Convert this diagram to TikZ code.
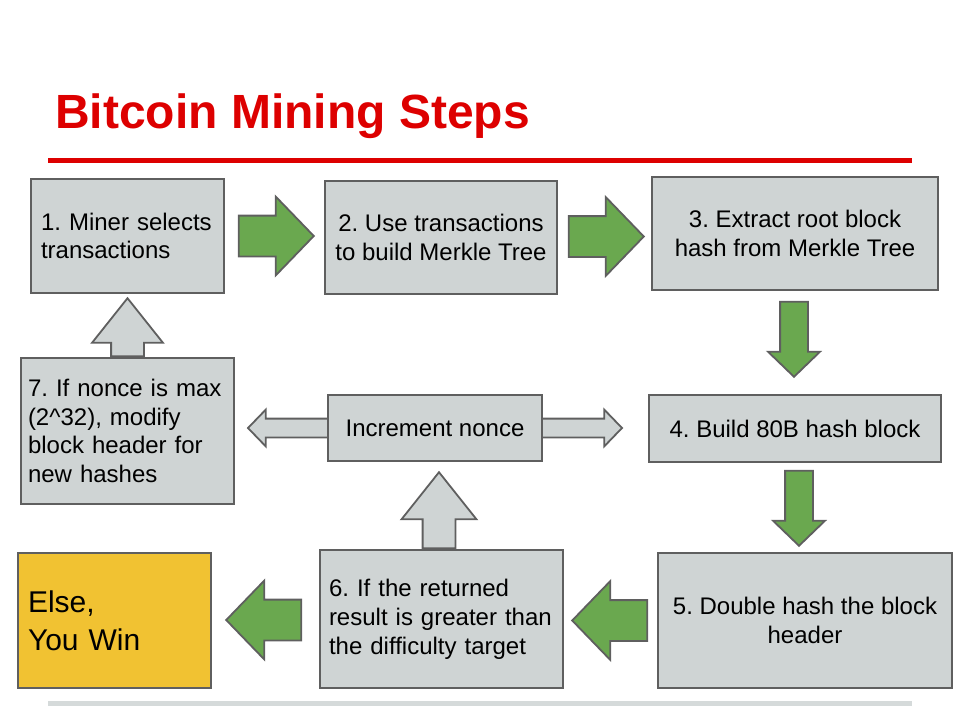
\documentclass[tikz,border=0pt]{standalone}
\usepackage{fontspec}
\setmainfont{Liberation Sans}
\usetikzlibrary{shapes.arrows,calc}
\definecolor{red1}{RGB}{221,0,0}
\definecolor{gray1}{RGB}{207,212,212}
\definecolor{gray2}{RGB}{95,95,95}
\definecolor{gray3}{RGB}{213,218,218}
\definecolor{green1}{RGB}{106,168,79}
\definecolor{yellow1}{RGB}{241,194,50}
\frenchspacing

\begin{document}
\begin{tikzpicture}[x=1pt,y=-1pt,font=\fontsize{24}{28.8}\selectfont,
    stepbox/.style={draw=gray2,fill=gray1,line width=1.8pt,inner sep=0pt,align=center},
    blockarrow/.style n args={4}{single arrow,draw=gray2,line width=1.8pt,inner xsep=0pt,anchor=tail,
      minimum height=#1,inner ysep=#2,single arrow head extend=#3,single arrow tip angle=#4},
    garrow/.style={blockarrow={75pt}{19.5pt}{19pt}{92},fill=green1},
    darrow/.style={blockarrow={75pt}{13pt}{12pt}{92},fill=green1,rotate=-90},
    uarrow/.style 2 args={blockarrow={#1}{15.5pt}{#2}{77},fill=gray1,rotate=90}]
    \path (0,0) rectangle (960,720);

    \node[anchor=base west,inner sep=0pt,text=red1,font=\fontsize{48}{58}\selectfont\bfseries] (title) at (55,128) {Bitcoin Mining Steps};
    \draw[red1,line width=5pt] (48,160) -- (912,160);
    \draw[gray3,line width=5pt] (48,703) -- (912,703);

    \node[stepbox,align=left,inner xsep=10pt,text width=173pt,minimum height=114pt] (s1) at (127.5,236) {1. Miner selects\\transactions};
    \node[stepbox,minimum width=232pt,minimum height=113pt] (s2) at (441,237.5) {2. Use transactions\\to build Merkle Tree};
    \node[stepbox,minimum width=286pt,minimum height=113pt] (s3) at (795,233.5) {3. Extract root block\\hash from Merkle Tree};
    \node[stepbox,minimum width=292pt,minimum height=67pt] (s4) at (795,428.5) {4. Build 80B hash block};
    \node[stepbox,minimum width=294pt,minimum height=135pt] (s5) at (805,620.5) {5. Double hash the block\\header};
    \node[stepbox,align=left,inner xsep=9pt,text width=225pt,minimum height=138pt] (s6) at (441.5,619) {6. If the returned\\result is greater than\\the difficulty target};
    \node[stepbox,align=left,inner xsep=7pt,text width=199pt,minimum height=146pt] (s7) at (127.5,431) {7. If nonce is max\\(2\^{}32), modify\\block header for\\new hashes};
    \node[stepbox,fill=yellow1,align=left,inner xsep=10pt,text width=173pt,minimum height=135pt,font=\fontsize{30}{38}\selectfont] (win) at (114.5,620.5) {Else,\\You Win};

    \coordinate (incc) at (435,428);
    \node[double arrow,draw=gray2,fill=gray1,line width=1.8pt,inner xsep=0pt,inner ysep=8.5pt,
      minimum height=374pt,double arrow head extend=9pt,double arrow tip angle=92] (loop) at (incc) {};
    \node[stepbox,minimum width=214pt,minimum height=66pt] (inc) at (incc) {Increment nonce};

    \node[garrow] (a12) at ($(s1.east)+(13,0)$) {};
    \node[garrow] (a23) at ($(s2.east)+(10,-1)$) {};
    \node[darrow] (a34) at ($(s3.south)+(-1,10)$) {};
    \node[darrow] (a45) at ($(s4.south)+(4,7)$) {};
    \node[garrow,rotate=180] (a56) at ($(s5.west)+(-9,0)$) {};
    \node[garrow,rotate=180] (a6w) at ($(s6.west)+(-17,1)$) {};
    \node[uarrow={58pt}{19pt}] (a71) at (s7.north) {};
    \node[uarrow={76pt}{21pt}] (a6i) at ($(s6.north)+(-2.5,0)$) {};
  \end{tikzpicture}
\end{document}
